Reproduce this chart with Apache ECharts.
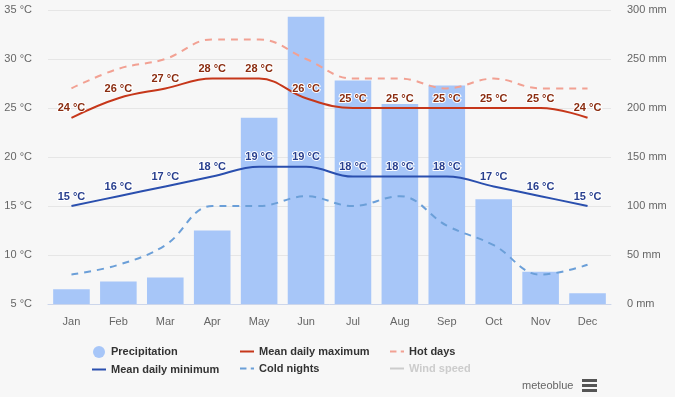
<!DOCTYPE html>
<html>
<head>
<meta charset="utf-8">
<script src="https://cdn.jsdelivr.net/npm/echarts@6/dist/echarts.min.js"></script>
<style>
  html, body { margin: 0; padding: 0; background: #f7f7f7; }
  #chart { width: 675px; height: 397px; }
</style>
</head>
<body>
<div id="chart"></div>
<script>
const months = ['Jan', 'Feb', 'Mar', 'Apr', 'May', 'Jun', 'Jul', 'Aug', 'Sep', 'Oct', 'Nov', 'Dec'];
const precipitation = [15, 23, 27, 75, 190, 293, 228, 204, 223, 107, 33, 11];
const meanMax = [24, 26, 27, 28, 28, 26, 25, 25, 25, 25, 25, 24];
const meanMin = [15, 16, 17, 18, 19, 19, 18, 18, 18, 17, 16, 15];
const hotDays = [27, 29, 30, 32, 32, 30, 28, 28, 27, 28, 27, 27];
const coldNights = [8, 9, 11, 15, 15, 16, 15, 16, 13, 11, 8, 9];

const font = 'Liberation Sans, Arial, sans-serif';
const chart = echarts.init(document.getElementById('chart'));

const lineIcon = 'path://M0,0h14v2h-14z';
const dashIcon = 'path://M0,0h6v2h-6z M10,0h3v2h-3z';

const legendBase = {
  orient: 'vertical',
  top: 346,
  padding: 0,
  itemGap: 6,
  itemWidth: 14,
  itemHeight: 12,
  inactiveColor: '#cccccc',
  textStyle: { fontFamily: font, fontSize: 11, fontWeight: 'bold', color: '#333' },
  selected: { 'Wind speed': false }
};

const label = (color) => ({
  show: true,
  position: 'top',
  distance: 4,
  formatter: '{c} °C',
  color: color,
  fontFamily: font,
  fontSize: 11,
  fontWeight: 'bold',
  textBorderColor: '#ffffff',
  textBorderWidth: 2
});

const option = {
  backgroundColor: '#f7f7f7',
  animation: false,
  grid: { left: 48, right: 64, top: 10, bottom: 93 },
  legend: [
    Object.assign({}, legendBase, { left: 92, data: [
      { name: 'Precipitation', icon: 'circle' },
      { name: 'Mean daily minimum', icon: lineIcon }
    ] }),
    Object.assign({}, legendBase, { left: 240, data: [
      { name: 'Mean daily maximum', icon: lineIcon },
      { name: 'Cold nights', icon: dashIcon }
    ] }),
    Object.assign({}, legendBase, { left: 390, data: [
      { name: 'Hot days', icon: dashIcon },
      { name: 'Wind speed', icon: lineIcon }
    ] })
  ],
  xAxis: {
    type: 'category',
    data: months,
    axisTick: { show: false },
    axisLine: { lineStyle: { color: '#ccd6eb' } },
    axisLabel: { color: '#666', fontFamily: font, fontSize: 11, margin: 12 }
  },
  yAxis: [
    {
      type: 'value',
      min: 5, max: 35, interval: 5,
      axisLabel: { formatter: '{value} °C', color: '#666', fontFamily: font, fontSize: 11, margin: 16 },
      splitLine: { lineStyle: { color: '#e6e6e6' } },
      axisLine: { show: false }, axisTick: { show: false }
    },
    {
      type: 'value',
      min: 0, max: 300, interval: 50,
      position: 'right',
      axisLabel: { formatter: '{value} mm', color: '#666', fontFamily: font, fontSize: 11, margin: 16 },
      splitLine: { show: false },
      axisLine: { show: false }, axisTick: { show: false }
    }
  ],
  series: [
    {
      name: 'Precipitation',
      type: 'bar',
      yAxisIndex: 1,
      data: precipitation,
      barWidth: '78%',
      itemStyle: { color: '#a7c6f8' },
      z: 1
    },
    {
      name: 'Hot days',
      type: 'line',
      data: hotDays,
      smooth: 0.4,
      symbol: 'none',
      lineStyle: { color: '#f2a193', width: 2, type: [7, 6] },
      itemStyle: { color: '#f2a193' },
      z: 2
    },
    {
      name: 'Cold nights',
      type: 'line',
      data: coldNights,
      smooth: 0.4,
      symbol: 'none',
      lineStyle: { color: '#6b9fd8', width: 2, type: [7, 6] },
      itemStyle: { color: '#6b9fd8' },
      z: 2
    },
    {
      name: 'Mean daily maximum',
      type: 'line',
      data: meanMax,
      smooth: 0.4,
      symbol: 'circle',
      symbolSize: 0,
      lineStyle: { color: '#c6371a', width: 2 },
      itemStyle: { color: '#c6371a' },
      label: label('#8a2c10'),
      z: 3
    },
    {
      name: 'Mean daily minimum',
      type: 'line',
      data: meanMin,
      smooth: 0.4,
      symbol: 'circle',
      symbolSize: 0,
      lineStyle: { color: '#2a4fae', width: 2 },
      itemStyle: { color: '#2a4fae' },
      label: label('#283f8e'),
      z: 3
    },
    {
      name: 'Wind speed',
      type: 'line',
      data: [],
      lineStyle: { color: '#cccccc' },
      itemStyle: { color: '#cccccc' }
    }
  ],
  graphic: [
    {
      type: 'text', left: 522, top: 380,
      style: { text: 'meteoblue', fill: '#666', font: '11px ' + font }
    },
    { type: 'rect', left: 582, top: 379, shape: { width: 15, height: 3 }, style: { fill: '#555' } },
    { type: 'rect', left: 582, top: 384, shape: { width: 15, height: 3 }, style: { fill: '#555' } },
    { type: 'rect', left: 582, top: 389, shape: { width: 15, height: 3 }, style: { fill: '#555' } }
  ]
};

chart.setOption(option);
</script>
</body>
</html>
